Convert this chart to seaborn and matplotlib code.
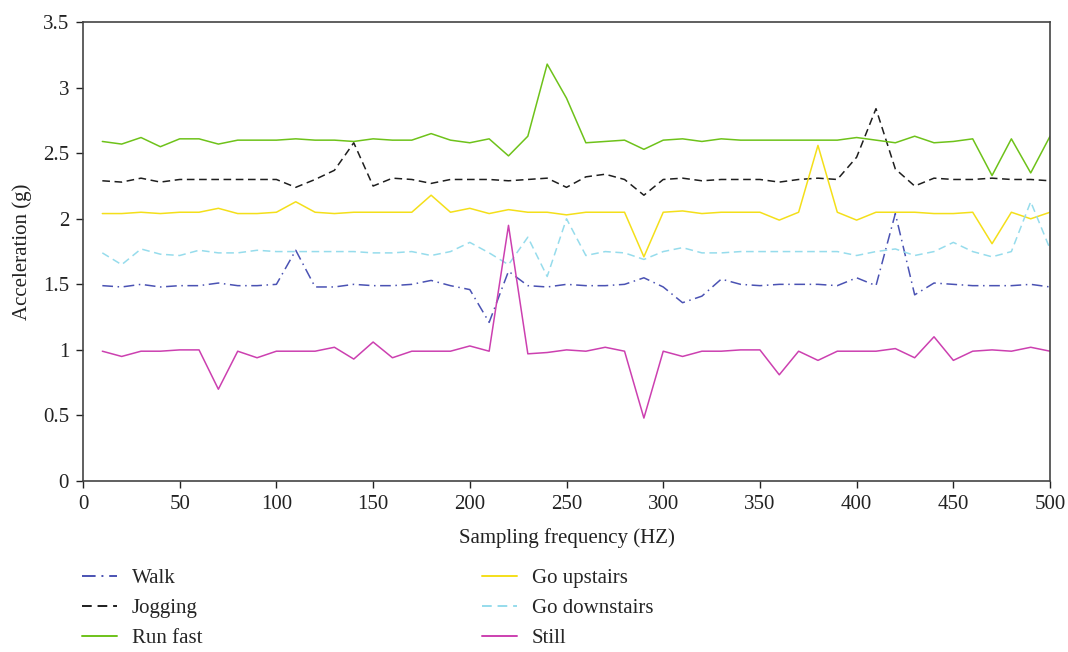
import numpy as np
import pandas as pd
import matplotlib
matplotlib.use("Agg")
import matplotlib.pyplot as plt
import seaborn as sns
from matplotlib.lines import Line2D

freq = list(range(10, 501, 10))

walk = [1.49, 1.48, 1.50, 1.48, 1.49, 1.49, 1.51, 1.49, 1.49, 1.50,
        1.76, 1.48, 1.48, 1.50, 1.49, 1.49, 1.50, 1.53, 1.49, 1.46,
        1.21, 1.60, 1.49, 1.48, 1.50, 1.49, 1.49, 1.50, 1.55, 1.48,
        1.36, 1.41, 1.54, 1.50, 1.49, 1.50, 1.50, 1.50, 1.49, 1.55,
        1.49, 2.04, 1.42, 1.51, 1.50, 1.49, 1.49, 1.49, 1.50, 1.48]

jogging = [2.29, 2.28, 2.31, 2.28, 2.30, 2.30, 2.30, 2.30, 2.30, 2.30,
           2.24, 2.30, 2.37, 2.58, 2.25, 2.31, 2.30, 2.27, 2.30, 2.30,
           2.30, 2.29, 2.30, 2.31, 2.24, 2.32, 2.34, 2.30, 2.18, 2.30,
           2.31, 2.29, 2.30, 2.30, 2.30, 2.28, 2.30, 2.31, 2.30, 2.47,
           2.84, 2.38, 2.25, 2.31, 2.30, 2.30, 2.31, 2.30, 2.30, 2.29]

run_fast = [2.59, 2.57, 2.62, 2.55, 2.61, 2.61, 2.57, 2.60, 2.60, 2.60,
            2.61, 2.60, 2.60, 2.59, 2.61, 2.60, 2.60, 2.65, 2.60, 2.58,
            2.61, 2.48, 2.63, 3.18, 2.92, 2.58, 2.59, 2.60, 2.53, 2.60,
            2.61, 2.59, 2.61, 2.60, 2.60, 2.60, 2.60, 2.60, 2.60, 2.62,
            2.60, 2.58, 2.63, 2.58, 2.59, 2.61, 2.33, 2.61, 2.35, 2.63]

go_upstairs = [2.04, 2.04, 2.05, 2.04, 2.05, 2.05, 2.08, 2.04, 2.04, 2.05,
               2.13, 2.05, 2.04, 2.05, 2.05, 2.05, 2.05, 2.18, 2.05, 2.08,
               2.04, 2.07, 2.05, 2.05, 2.03, 2.05, 2.05, 2.05, 1.71, 2.05,
               2.06, 2.04, 2.05, 2.05, 2.05, 1.99, 2.05, 2.56, 2.05, 1.99,
               2.05, 2.05, 2.05, 2.04, 2.04, 2.05, 1.81, 2.05, 2.00, 2.05]

go_downstairs = [1.74, 1.65, 1.77, 1.73, 1.72, 1.76, 1.74, 1.74, 1.76, 1.75,
                 1.75, 1.75, 1.75, 1.75, 1.74, 1.74, 1.75, 1.72, 1.75, 1.82,
                 1.74, 1.65, 1.86, 1.56, 2.00, 1.72, 1.75, 1.74, 1.69, 1.75,
                 1.78, 1.74, 1.74, 1.75, 1.75, 1.75, 1.75, 1.75, 1.75, 1.72,
                 1.75, 1.77, 1.72, 1.75, 1.82, 1.75, 1.71, 1.75, 2.13, 1.77]

still = [0.99, 0.95, 0.99, 0.99, 1.00, 1.00, 0.70, 0.99, 0.94, 0.99,
         0.99, 0.99, 1.02, 0.93, 1.06, 0.94, 0.99, 0.99, 0.99, 1.03,
         0.99, 1.95, 0.97, 0.98, 1.00, 0.99, 1.02, 0.99, 0.48, 0.99,
         0.95, 0.99, 0.99, 1.00, 1.00, 0.81, 0.99, 0.92, 0.99, 0.99,
         0.99, 1.01, 0.94, 1.10, 0.92, 0.99, 1.00, 0.99, 1.02, 0.99]

labels = ["Walk", "Jogging", "Run fast", "Go upstairs", "Go downstairs", "Still"]
series = [walk, jogging, run_fast, go_upstairs, go_downstairs, still]
colors = ["#4a52b3", "#1e1e1e", "#6ec21a", "#f4df1a", "#96dcec", "#cc40b0"]
dashes = [(7, 3, 1, 3), (5, 3), "", "", (5, 3), ""]

df = pd.DataFrame({
    "freq": freq * len(labels),
    "value": sum(series, []),
    "activity": sum([[l] * len(freq) for l in labels], []),
})

sns.set_style("ticks")
plt.rcParams["font.family"] = ["Liberation Serif", "DejaVu Serif"]
plt.rcParams["font.size"] = 15

fig = plt.figure(figsize=(10.68, 6.52), dpi=100)
ax = fig.add_axes([0.0777, 0.2623, 0.9055, 0.7037])

sns.lineplot(data=df, x="freq", y="value", hue="activity", style="activity",
             hue_order=labels, style_order=labels,
             palette=dict(zip(labels, colors)),
             dashes=dict(zip(labels, dashes)),
             linewidth=1.1, ax=ax, legend=False)

ax.set_xlim(0, 500)
ax.set_ylim(0, 3.5)
ax.set_xticks(range(0, 501, 50))
ax.set_yticks([0, 0.5, 1, 1.5, 2, 2.5, 3, 3.5])
ax.set_yticklabels(["0", "0.5", "1", "1.5", "2", "2.5", "3", "3.5"])
ax.set_xlabel("Sampling frequency (HZ)", fontsize=15, color="#222222", labelpad=10)
ax.set_ylabel("Acceleration (g)", fontsize=15, color="#222222", labelpad=8)
ax.tick_params(axis="both", labelsize=15, colors="#222222", length=5, width=1,
               direction="out", pad=5)
for s in ax.spines.values():
    s.set_visible(True)
    s.set_color("#444444")
    s.set_linewidth(1.2)

handles = [Line2D([0], [0], color=c, lw=1.4,
                  linestyle=((0, d) if d else "-")) for c, d in zip(colors, dashes)]
fig.legend(handles, labels, loc="upper left", bbox_to_anchor=(0.0768, 0.128),
           ncol=2, frameon=False, fontsize=15, handlelength=1.68,
           handletextpad=0.72, columnspacing=13.4, labelspacing=0.5,
           borderpad=0, borderaxespad=0)

fig.savefig("out.png", dpi=100)
